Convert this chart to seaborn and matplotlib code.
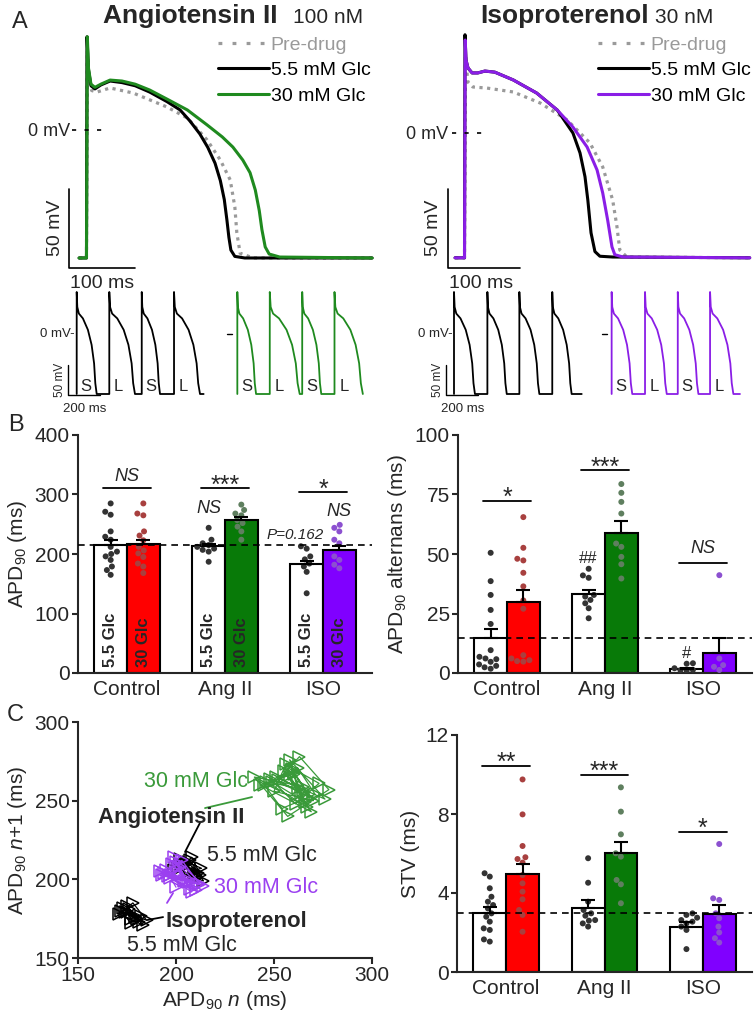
import numpy as np
import pandas as pd
import matplotlib
matplotlib.use("Agg")
import matplotlib.pyplot as plt
from matplotlib.lines import Line2D
import seaborn as sns

# === Figure size in pixels ===
W, H = 755, 1018

# === Panel A: action potentials (ms, mV) ===
ang_pre_t = [-12, -0.8, 0.5, 3, 7, 15, 35, 70, 121, 152, 182, 202, 217, 224, 227, 232, 252, 432]
ang_pre_v = [-81, -81, 50, 32, 25, 24, 26.6, 23.4, 14.6, 7.6, -6.3, -19, -31.6, -48.7, -65, -78, -81, -81]
ang_55_t = [-12, -0.8, 0, 2.3, 6, 12, 21, 35, 53, 73, 95, 121, 141, 156, 171, 183, 194, 202, 208, 212, 215, 218, 224, 239, 432]
ang_55_v = [-81, -81, 59, 38, 28, 26, 28.5, 31, 30, 28, 24, 18, 12.7, 5.7, -2.5, -11, -21, -32, -44, -57, -68, -76, -80, -81, -81]
ang_30_t = [-12, -0.8, 0.5, 2.3, 6, 12, 21, 35, 53, 73, 95, 121, 152, 182, 205, 221, 236, 247, 255, 261, 265, 270, 276, 292, 432]
ang_30_v = [-81, -81, 59, 39, 29, 27, 29, 31.6, 31, 29, 25.3, 19.6, 12.7, 3.2, -4.4, -10.8, -19, -27, -38, -51, -63, -74, -78.5, -80.4, -81]

iso_pre_t = [-14, -0.7, 0.7, 4, 11, 31, 68, 106, 144, 176, 194, 208, 214, 218, 228, 401]
iso_pre_v = [-80, -80, 50, 32.7, 29.5, 28.8, 26.3, 19.2, 8.3, -6.4, -21.8, -43, -60, -75, -79.5, -80]
iso_55_t = [-14, -0.7, 0, 1.4, 4.2, 10, 18, 28, 42, 68, 101, 130, 152, 162, 169, 173, 177.5, 183, 190, 208, 401]
iso_55_v = [-80, -80, 63, 46.8, 41.7, 38.5, 38.5, 39.7, 39, 34, 25.6, 14.7, 0, -12.8, -28, -43, -64, -76, -79, -79.5, -80]
iso_30_t = [-14, -0.7, 0.3, 1.4, 4.2, 10, 18, 28, 42, 68, 101, 130, 152, 172, 186, 194, 201, 207, 211, 222.5, 401]
iso_30_v = [-80, -80, 59.6, 46.8, 41.7, 38.5, 38.5, 39.7, 39, 34, 25.6, 14.7, 3.8, -9, -23.7, -38.5, -56, -73, -78, -79.5, -80]

# small alternans traces: beat shape (fraction of APD, mV) + onsets / APDs (ms)
shape_frac = [0, 0, 0.03, 0.11, 0.31, 0.56, 0.745, 0.87, 0.93, 1.0]
shape_mv = [-100, 70, 45, 34, 26, 7, -18, -49, -82, -100]
sm_ang55_on = [0, 207, 413, 618]
sm_ang55_apd = [127, 163, 116, 165]
sm_ang55_end = 806
sm_ang30_on = [1020, 1226, 1432, 1637]
sm_ang30_apd = [119, 190, 121, 180]
sm_ang30_end = 1817
sm_iso55_on = [0, 212, 415, 624]
sm_iso55_apd = [133, 123, 127, 123]
sm_iso55_end = 811
sm_iso30_on = [1001, 1213, 1421, 1626]
sm_iso30_apd = [131, 138, 131, 148]
sm_iso30_end = 1816
beat_labels = ["S", "L", "S", "L"]

# === Panels B / C bar data (order: Ctl 5.5, Ctl 30, Ang 5.5, Ang 30, ISO 5.5, ISO 30) ===
groups = ["Control", "Ang II", "ISO"]
apd_mean = [215, 216, 213, 257, 183, 207]
apd_sem = [8, 7, 4, 5, 6, 7]
apd_ctl55 = [285, 271, 266, 238, 229, 224, 212, 204, 200, 196, 190, 179, 173, 165]
apd_ctl30 = [285, 268, 265, 238, 231, 223, 212, 206, 201, 195, 184, 179, 168]
apd_ang55 = [244, 224, 218, 215, 212, 209, 207, 204, 187]
apd_ang30 = [283, 274, 268, 265, 257, 252, 246, 238, 224]
apd_iso55 = [213, 209, 196, 191, 184, 179, 170, 134]
apd_iso30 = [249, 244, 238, 224, 218, 196, 190, 182, 176]

alt_mean = [14.5, 30, 33, 59, 1.5, 8.3]
alt_sem = [4, 5, 2, 5, 0.7, 6.5]
alt_ctl55 = [50.5, 38.6, 32.8, 26.5, 20.6, 9.6, 6.8, 6.1, 5.8, 4.7, 3.6, 3.0, 2.4, 1.8]
alt_ctl30 = [65.5, 52.6, 48.0, 47.3, 42.1, 36.4, 30.5, 27.0, 7.5, 6.1, 5.4, 5.0, 4.8]
alt_ang55 = [43.8, 41.0, 40.0, 32.8, 32.1, 30.7, 29.3, 27.2, 23.0]
alt_ang30 = [79.4, 75.7, 71.9, 67.0, 54.4, 53.0, 48.8, 45.7, 39.7]
alt_iso55 = [4.1, 3.9, 2.0, 1.3, 1.2, 1.0]
alt_iso30 = [41.1, 6.1, 3.3, 2.6, 1.3]

stv_mean = [2.97, 4.95, 3.26, 6.04, 2.3, 2.94]
stv_sem = [0.3, 0.5, 0.4, 0.55, 0.25, 0.45]
stv_ctl55 = [5.0, 4.83, 4.24, 3.81, 3.56, 3.39, 3.22, 2.97, 2.8, 2.55, 2.21, 2.13, 1.65, 1.54]
stv_ctl30 = [9.75, 7.98, 6.38, 5.81, 5.72, 5.54, 4.91, 4.49, 4.07, 3.68, 3.14, 2.89, 2.04]
stv_ang55 = [5.76, 4.52, 3.56, 3.14, 2.97, 2.63, 2.46, 2.3, 2.6, 2.85]
stv_ang30 = [9.35, 8.12, 6.97, 6.01, 5.84, 4.66, 4.44, 3.48]
stv_iso55 = [2.97, 2.89, 2.63, 2.46, 2.3, 2.13, 2.55, 1.16, 2.75]
stv_iso30 = [6.48, 3.73, 3.65, 2.97, 2.72, 2.3, 1.71, 1.49, 2.0]

# Poincare: beat-to-beat APD90 sequences (ms)
poi_ang30 = [258, 266, 249, 262, 271, 254, 245, 260, 268, 252, 263, 278, 257, 240, 265, 259, 270,
             250, 256, 273, 261, 248, 264, 255, 269, 243, 260, 267, 246, 262, 258, 276, 251, 265, 257]
poi_ang55 = [205, 210, 201, 207, 212, 203, 208, 214, 199, 206, 211, 204, 209, 202, 213, 207, 205, 210, 203, 208]
poi_iso30 = [200, 195, 206, 198, 210, 193, 203, 212, 197, 201, 207, 194, 204, 199, 214, 196,
             202, 208, 192, 205, 200, 211, 197, 203]
poi_iso55 = [177, 172, 180, 175, 183, 171, 178, 185, 174, 179, 176, 181, 173, 182, 177, 175, 179]

# === Style ===
sns.set_theme(style="ticks")
plt.rcParams['font.family'] = ['Liberation Sans', 'DejaVu Sans']
plt.rcParams['mathtext.fontset'] = 'custom'
plt.rcParams['mathtext.rm'] = 'Liberation Sans'
plt.rcParams['mathtext.it'] = 'Liberation Sans:italic'
plt.rcParams['mathtext.bf'] = 'Liberation Sans:bold'

RED, GREEN, PURPLE = "#ff0000", "#087a08", "#8000ff"
TR_GREEN, TR_PURPLE, GREY = "#1f8a1f", "#8a1ee6", "#9a9a9a"
DOT_K, DOT_R, DOT_G, DOT_P = "#333333", "#a8403f", "#5f7f5f", "#8c50d0"
SC_GREEN, SC_PURPLE = "#3a9a3a", "#9b40f0"

order = ["ctl55", "ctl30", "gap1", "ang55", "ang30", "gap2", "iso55", "iso30"]
bar_keys = ["ctl55", "ctl30", "ang55", "ang30", "iso55", "iso30"]
bar_colors = dict(zip(bar_keys, ["white", RED, "white", GREEN, "white", PURPLE]))
dot_colors = dict(zip(bar_keys, [DOT_K, DOT_R, DOT_K, DOT_G, DOT_K, DOT_P]))
pairs = [("ctl55", "ctl30"), ("ang55", "ang30"), ("iso55", "iso30")]

fig = plt.figure(figsize=(W / 100, H / 100), dpi=100)


def add_ax(left, top, right, bottom, **kw):
    return fig.add_axes([left / W, 1 - bottom / H, (right - left) / W, (bottom - top) / H], **kw)


# overlay in pixel coordinates for labels and scale bars
ov = add_ax(0, 0, W, H, zorder=10)
ov.set_xlim(0, W)
ov.set_ylim(H, 0)
ov.axis("off")


def px_text(x, y, s, **kw):
    kw.setdefault("ha", "center")
    kw.setdefault("va", "center")
    ov.text(x, y, s, **kw)


# === Panel A main traces ===
def ap_panel(box, x0, px_ms, y0, px_mv, pre, g55, g30, col30):
    l, t, r, b = box
    ax = add_ax(l, t, r, b)
    ax.set_xlim((l - x0) / px_ms, (r - x0) / px_ms)
    ax.set_ylim((y0 - b) / px_mv, (y0 - t) / px_mv)
    ax.axis("off")
    ax.plot(pre[0], pre[1], color=GREY, lw=2.3, ls=(0, (1, 1.4)))
    ax.plot(g55[0], g55[1], color="black", lw=2.2)
    ax.plot(g30[0], g30[1], color=col30, lw=2.2)
    handles = [Line2D([], [], color=GREY, lw=2.3, ls=(0, (1.2, 3.2))),
               Line2D([], [], color="black", lw=2.2),
               Line2D([], [], color=col30, lw=2.2)]
    ax.legend(handles, ["Pre-drug", "5.5 mM Glc", "30 mM Glc"], loc="upper right",
              bbox_to_anchor=(0.985, 0.958), frameon=False, fontsize=14, handlelength=2.6,
              handletextpad=0.1, labelspacing=0.4, borderpad=0, borderaxespad=0,
              labelcolor=[GREY, "black", "black"])
    return ax


ap_panel((60, 25, 375, 290), 87, 0.66, 130, 1.58, (ang_pre_t, ang_pre_v),
         (ang_55_t, ang_55_v), (ang_30_t, ang_30_v), TR_GREEN)
ap_panel((440, 25, 755, 290), 465, 0.71, 133, 1.56, (iso_pre_t, iso_pre_v),
         (iso_55_t, iso_55_v), (iso_30_t, iso_30_v), TR_PURPLE)

px_text(20, 22, "A", fontsize=17)
px_text(103, 16, "Angiotensin II", fontsize=19, fontweight="bold", ha="left")
px_text(293, 17, "100 nM", fontsize=15, ha="left")
px_text(480, 16, "Isoproterenol", fontsize=19, fontweight="bold", ha="left")
px_text(655, 17, "30 nM", fontsize=15, ha="left")

for sx, ex, zx, zy, dx in [(69, 135, 70, 131, (72, 103)), (448, 520, 448, 134, (452, 482))]:
    ov.plot([sx, sx, ex], [189, 268, 268], color="black", lw=1.2)
    px_text(sx - 14, 228, "50 mV", fontsize=14, rotation=90)
    px_text(sx + 33, 283, "100 ms", fontsize=14)
    px_text(zx, zy, "0 mV", fontsize=13, ha="right")
    ov.plot(list(dx), [zy - 1, zy - 1], color="black", lw=1.2, ls=(0, (2.5, 5)))


# === Panel A small alternans traces ===
def beat_train(onsets, apds, t_end):
    ts, vs = [], []
    for on, apd in zip(onsets, apds):
        ts += [on + f * apd for f in shape_frac]
        vs += list(shape_mv)
    if t_end > ts[-1]:
        ts.append(t_end)
        vs.append(shape_mv[-1])
    return ts, vs


def small_panel(box, x0, trains, label_sets):
    l, t, r, b = box
    ax = add_ax(l, t, r, b)
    ms_px, mv_px = 6.35, 1 / 0.6
    ax.set_xlim((l - x0) * ms_px, (r - x0) * ms_px)
    ax.set_ylim((334 - b) * mv_px, (334 - t) * mv_px)
    ax.axis("off")
    for (on, apd, end, col) in trains:
        ts, vs = beat_train(on, apd, end)
        ax.plot(ts, vs, color=col, lw=1.3)
    for on in label_sets:
        for o, lab in zip(on, beat_labels):
            ax.text(o + 60, -88, lab, fontsize=12, ha="center", va="center")


small_panel((30, 282, 375, 420), 76.7,
            [(sm_ang55_on, sm_ang55_apd, sm_ang55_end, "black"),
             (sm_ang30_on, sm_ang30_apd, sm_ang30_end, TR_GREEN)],
            [sm_ang55_on, sm_ang30_on])
small_panel((410, 282, 755, 420), 454,
            [(sm_iso55_on, sm_iso55_apd, sm_iso55_end, "black"),
             (sm_iso30_on, sm_iso30_apd, sm_iso30_end, TR_PURPLE)],
            [sm_iso30_on])

for sx, tx, dash in [(68, 75, (227, 232)), (446, 453, (602, 607))]:
    ov.plot([sx, sx, sx + 32], [365, 395, 395], color="black", lw=1.0)
    px_text(sx - 8, 380, "50 mV", fontsize=8.5, rotation=90)
    px_text(sx + 17, 409, "200 ms", fontsize=9.5)
    px_text(tx, 334, "0 mV-", fontsize=9.5, ha="right")
    ov.plot(list(dash), [334, 334], color="black", lw=1.0)


# === Bar panels ===
def star(ax, x, y, s, fs, center_em, **kw):
    ax.annotate(s, (x, y), xytext=(0, -center_em * fs), textcoords="offset points",
                ha="center", va="baseline", fontsize=fs, **kw)


def bar_panel(box, means, sems, points, ylim, yticks, ylabel, ref):
    ax = add_ax(*box)
    df_bar = pd.DataFrame({"cond": bar_keys, "val": means})
    sns.barplot(data=df_bar, x="cond", y="val", hue="cond", order=order, hue_order=bar_keys,
                palette=bar_colors, saturation=1, width=1.0, edgecolor="black", linewidth=1.5,
                errorbar=None, legend=False, ax=ax)
    df_pts = pd.DataFrame({"cond": np.repeat(bar_keys, [len(p) for p in points]),
                           "val": np.concatenate(points)})
    sns.swarmplot(data=df_pts, x="cond", y="val", hue="cond", order=order, hue_order=bar_keys,
                  palette=dot_colors, size=4.3, legend=False, ax=ax, zorder=3)
    xs = [order.index(k) for k in bar_keys]
    ax.errorbar(xs, means, yerr=[np.zeros(len(means)), sems], fmt="none", ecolor="black",
                elinewidth=1.5, capsize=5, capthick=1.5, zorder=4)
    ax.axhline(ref, color="black", lw=1.2, ls=(0, (4, 3)), zorder=5)
    ax.set_xlim(-1, 8)
    ax.set_ylim(*ylim)
    ax.set_yticks(yticks)
    centers = [(order.index(a) + order.index(b)) / 2 for a, b in pairs]
    ax.set_xticks(centers)
    ax.set_xticklabels(groups)
    ax.set_xlabel("")
    ax.set_ylabel(ylabel, fontsize=15, labelpad=4)
    ax.tick_params(axis="y", labelsize=15, length=4, width=1.5, pad=2)
    ax.tick_params(axis="x", labelsize=15, length=0, pad=5)
    sns.despine(ax=ax)
    for sp in ax.spines.values():
        sp.set_linewidth(1.5)
    return ax, centers


def sig(ax, c, y, s, ty, fs=18, center_em=0.585, **kw):
    ax.plot([c - 0.73, c + 0.73], [y, y], color="black", lw=1.3)
    star(ax, c, ty, s, fs, center_em, **kw)


# B left
axb1, cen = bar_panel((78, 435, 372, 673), apd_mean, apd_sem,
                      [apd_ctl55, apd_ctl30, apd_ang55, apd_ang30, apd_iso55, apd_iso30],
                      (0, 400), [0, 100, 200, 300, 400], r"APD$_{90}$ (ms)", 215)
sig(axb1, cen[0], 311, "NS", 333, fs=13, center_em=0.36, fontstyle="italic")
sig(axb1, cen[1], 311, "***", 328)
sig(axb1, cen[2], 304, "*", 321)
star(axb1, order.index("ang55"), 279, "NS", 13, 0.36, fontstyle="italic")
star(axb1, order.index("iso30"), 274, "NS", 13, 0.36, fontstyle="italic")
star(axb1, 5.64, 235, "P=0.162", 11, 0.36, fontstyle="italic")
for k in bar_keys:
    axb1.text(order.index(k), 10, "5.5 Glc" if k.endswith("55") else "30 Glc", rotation=90,
              ha="center", va="bottom", fontsize=12, fontweight="bold", zorder=6)

# B right
axb2, cen = bar_panel((458, 435, 752, 673), alt_mean, alt_sem,
                      [alt_ctl55, alt_ctl30, alt_ang55, alt_ang30, alt_iso55, alt_iso30],
                      (0, 100), [0, 25, 50, 75, 100], r"APD$_{90}$ alternans (ms)", 14.5)
sig(axb2, cen[0], 72.3, "*", 76.9)
sig(axb2, cen[1], 85.3, "***", 89.5)
sig(axb2, cen[2], 46.2, "NS", 53, fs=13, center_em=0.36, fontstyle="italic")
star(axb2, order.index("ang55"), 48.7, "##", 12, 0.35)
star(axb2, order.index("iso55"), 8.8, "#", 12, 0.35)

# C right
axc2, cen = bar_panel((457, 735, 752, 972), stv_mean, stv_sem,
                      [stv_ctl55, stv_ctl30, stv_ang55, stv_ang30, stv_iso55, stv_iso30],
                      (0, 12), [0, 4, 8, 12], "STV (ms)", 2.97)
sig(axc2, cen[0], 10.43, "**", 10.99)
sig(axc2, cen[1], 10.0, "***", 10.53)
sig(axc2, cen[2], 7.1, "*", 7.65)

# === C left: Poincare plot ===
axc1 = add_ax(78, 722, 372, 958)
for seq, col in [(poi_ang30, SC_GREEN), (poi_ang55, "black"), (poi_iso55, "black"), (poi_iso30, SC_PURPLE)]:
    sns.lineplot(x=seq[:-1], y=seq[1:], sort=False, estimator=None, color=col, lw=0.9,
                 marker=">", markersize=8.5, markerfacecolor="none", markeredgecolor=col,
                 markeredgewidth=1.1, ax=axc1)
axc1.set_xlim(150, 300)
axc1.set_ylim(150, 300)
axc1.set_xticks([150, 200, 250, 300])
axc1.set_yticks([150, 200, 250, 300])
axc1.set_xlabel(r"APD$_{90}$ $n$ (ms)", fontsize=15, labelpad=3)
axc1.set_ylabel(r"APD$_{90}$ $n\mathit{+1}$ (ms)", fontsize=15, labelpad=4)
axc1.tick_params(labelsize=15, length=4, width=1.5, pad=2)
sns.despine(ax=axc1)
for sp in axc1.spines.values():
    sp.set_linewidth(1.5)
axc1.plot([214.8, 238.8], [245.3, 252.3], color=SC_GREEN, lw=1.3)
axc1.plot([212.2, 204.6], [235.8, 217.4], color="black", lw=1.3)
axc1.plot([198.5, 195.4], [191.3, 185], color=SC_PURPLE, lw=1.3)
axc1.plot([185.2, 193.4], [174.1, 176], color="black", lw=1.3)
axc1.text(210, 262, "30 mM Glc", color=SC_GREEN, fontsize=15.5, ha="center", va="center")
axc1.text(197.7, 239, "Angiotensin II", fontsize=16, fontweight="bold", ha="center", va="center")
axc1.text(243.6, 215.4, "5.5 mM Glc", fontsize=15.5, ha="center", va="center")
axc1.text(246.2, 195, "30 mM Glc", color=SC_PURPLE, fontsize=15.5, ha="center", va="center")
axc1.text(231, 173, "Isoproterenol", fontsize=16, fontweight="bold", ha="center", va="center")
axc1.text(202.8, 158.2, "5.5 mM Glc", fontsize=15.5, ha="center", va="center")

px_text(16, 425, "B", fontsize=17)
px_text(15, 715, "C", fontsize=17)

fig.savefig("out.png", dpi=100)
